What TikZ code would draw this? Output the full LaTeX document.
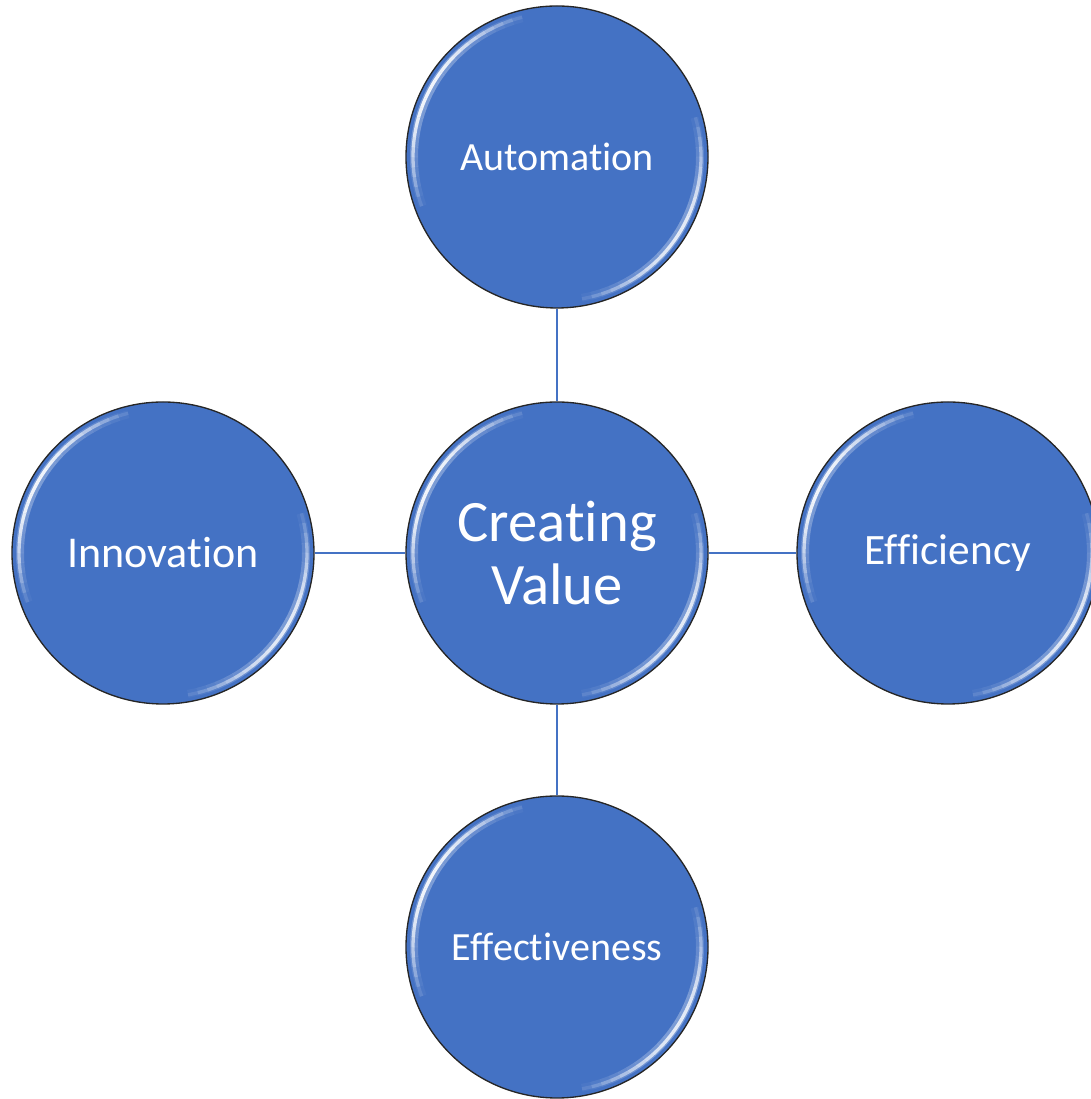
\documentclass[tikz,border=0pt]{standalone}
\usepackage{fontspec}
\setmainfont[Ligatures=NoCommon]{Carlito}
\usetikzlibrary{calc}
\definecolor{cblue}{HTML}{4472C4}
\begin{document}
\begin{tikzpicture}[x=0.75pt,y=0.75pt,
  bubble/.style={circle,fill=cblue,draw=black!85,line width=1pt,minimum size=226.5pt,inner sep=0pt,text=white,align=center,font=\fontsize{30}{36}\selectfont},
  bigbubble/.style={bubble,font=\fontsize{44}{47}\selectfont},
  link/.style={draw=cblue,line width=0.9pt}]
\useasboundingbox (0,0) rectangle (1091,1099);
\node[bigbubble] (cv) at (557,546) {Creating\\Value};
\node[bubble] (au) at (557,942) {Automation};
\node[bubble,font=\fontsize{33}{38}\selectfont] (in) at (163,546) {Innovation};
\node[bubble,font=\fontsize{32.5}{38}\selectfont] (ef) at (948,546) {Efficiency};
\node[bubble] (ev) at (557,152) {Effectiveness};
\draw[link] (au) -- (cv);
\draw[link] (in) -- (cv);
\draw[link] (cv) -- (ef);
\draw[link] (cv) -- (ev);
\foreach \n in {cv,au,in,ef,ev}{
  \foreach \a in {100,104,...,196}{
    \pgfmathsetmacro{\op}{0.9*sin((\a-100)*1.8)}
    \pgfmathsetmacro{\opb}{0.3*sin((\a-100)*1.8)}
    \draw[white,opacity=\opb,line width=6pt] ($(\n.center)+(\a:143)$) arc[start angle=\a,end angle=\a+4,radius=143];
    \draw[white,opacity=\op,line width=2.5pt] ($(\n.center)+(\a:144)$) arc[start angle=\a,end angle=\a+4,radius=144];
  }
  \foreach \a in {-84,-80,...,12}{
    \pgfmathsetmacro{\op}{0.8*sin((\a+84)*1.8)}
    \pgfmathsetmacro{\opb}{0.3*sin((\a+84)*1.8)}
    \draw[white,opacity=\opb,line width=6pt] ($(\n.center)+(\a:143)$) arc[start angle=\a,end angle=\a+4,radius=143];
    \draw[white,opacity=\op,line width=2.5pt] ($(\n.center)+(\a:144)$) arc[start angle=\a,end angle=\a+4,radius=144];
  }
}
\end{tikzpicture}
\end{document}
